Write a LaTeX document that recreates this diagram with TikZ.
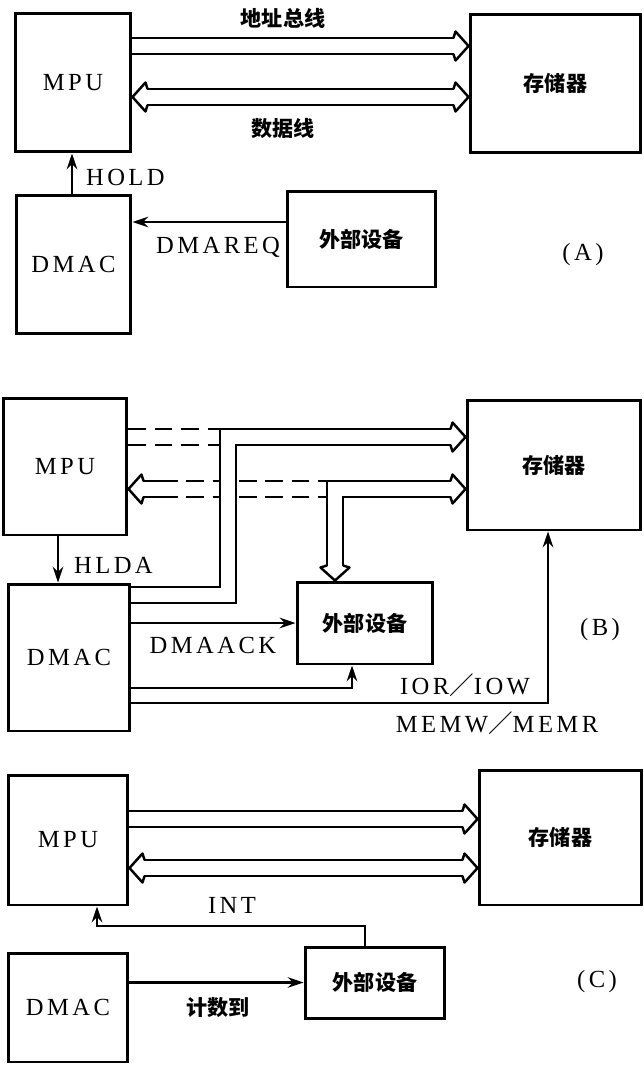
\documentclass[tikz,border=0pt]{standalone}
\usepackage{fontspec}
\setmainfont{Liberation Serif}[LetterSpace=14]
\newfontfamily\cjk{Noto Sans CJK SC}
\usetikzlibrary{arrows.meta, calc}

\begin{document}
\begin{tikzpicture}[
  x=0.02cm, y=-0.02cm,
  line cap=butt, line join=miter,
  box/.style = {draw, line width=1.7pt, inner sep=0pt,
                font=\fontsize{14}{16}\selectfont},
  cbox/.style = {box, font=\cjk\bfseries\fontsize{12}{14}\selectfont},
  bus/.style = {draw, line width=1.3pt, double=white, double distance=8pt},
  busr/.style = {bus, shorten >=0.3cm},
  busl/.style = {bus, shorten <=0.3cm},
  busb/.style = {bus, shorten >=0.3cm, shorten <=0.3cm},
  hd/.pic = {\draw[line width=1.4pt, line cap=round, line join=round]
              (-15,8.2) -- (-13,14.5) -- (0,0) -- (-13,-14.5) -- (-15,-8.2);},
  dsh/.style = {draw, line width=1.3pt, dash pattern=on 10pt off 5pt},
  sig/.style = {draw, line width=1.3pt, -{Stealth[length=9pt, width=6pt]}},
  lbl/.style = {inner sep=1pt, font=\fontsize{14}{16}\selectfont},
  clbl/.style = {inner sep=1pt, font=\cjk\bfseries\fontsize{12}{14}\selectfont}
]
\fill[white] (0,0) rectangle (644,1065);
\useasboundingbox (0,0) rectangle (644,1065);

% (A) 请求
\node[box, minimum width=2.32cm, minimum height=2.78cm] (mpuA) at (73,82.5) {MPU};
\node[cbox, minimum width=3.42cm, minimum height=2.78cm] (memA) at (555.5,83.5) {存储器};
\node[box, minimum width=2.30cm, minimum height=2.78cm] (dmacA) at (73.5,264.5) {DMAC};
\node[cbox, minimum width=2.98cm, minimum height=1.92cm] (extA) at (361.5,239) {外部设备};

\draw[busr] (mpuA.east |- 0,46) -- (memA.west |- 0,46);
\pic at (memA.west |- 0,46) {hd};
\draw[busb] (mpuA.east |- 0,97) -- (memA.west |- 0,97);
\pic at (memA.west |- 0,97) {hd};
\pic[rotate=180] at (mpuA.east |- 0,97) {hd};
\draw[sig] (dmacA.north -| 72,0) -- (mpuA.south -| 72,0);
\draw[sig] (extA.west |- 0,222) -- (dmacA.east |- 0,222);

\node[clbl] (addrA) at (283,18) {地址总线};
\node[clbl] (dataA) at (283,128) {数据线};
\node[lbl, anchor=west] (holdA) at (84,177) {HOLD};
\node[lbl] (reqA) at (218,247) {DMAREQ};
\node[lbl] (tagA) at (583,255) {(A)};

% (B) DMA 传送
\node[box, minimum width=2.48cm, minimum height=2.74cm] (mpuB) at (65,466.5) {MPU};
\node[cbox, minimum width=3.48cm, minimum height=2.60cm] (memB) at (554,465) {存储器};
\node[box, minimum width=2.44cm, minimum height=2.94cm] (dmacB) at (69,657.5) {DMAC};
\node[cbox, minimum width=2.72cm, minimum height=1.64cm] (extB) at (365,623) {外部设备};

% MPU 脱离总线
\draw[dsh] (mpuB.east |- 0,428.8) -- (219.8,428.8);
\draw[dsh] (mpuB.east |- 0,445.2) -- (219.8,445.2);
\draw[dsh] (160,480.8) -- (326.8,480.8);
\draw[dsh] (160,497.2) -- (326.8,497.2);
\coordinate (stubB) at (160,489);
\draw[busl] (mpuB.east |- stubB) -- (stubB);
\pic[rotate=180] at (mpuB.east |- stubB) {hd};

\draw[busr] (dmacB.east |- 0,595) -| (228,437) -- (memB.west |- 0,437);
\pic at (memB.west |- 0,437) {hd};
\draw[busb] (extB.north -| 335,0) |- (memB.west |- 0,489);
\pic at (memB.west |- 0,489) {hd};
\pic[rotate=-90] at (extB.north -| 335,0) {hd};

\draw[sig] (mpuB.south -| 58,0) -- (dmacB.north -| 58,0);
\draw[sig] (dmacB.east |- extB.west) -- (extB.west);
\draw[sig] (dmacB.east |- 0,688) -| (extB.south -| 352,0);
\draw[sig] (dmacB.east |- 0,703) -| (memB.south -| 548,0);

\node[lbl, anchor=west] (hldaB) at (72,565) {HLDA};
\node[lbl] (ackB) at (213,645) {DMAACK};
\node[lbl] (iorB) at (465,685) {IOR{\cjk ／}IOW};
\node[lbl] (memrB) at (497,723) {MEMW{\cjk ／}MEMR};
\node[lbl] (tagB) at (600,630) {(B)};

% (C) 结束
\node[box, minimum width=2.40cm, minimum height=2.60cm] (mpuC) at (68,840) {MPU};
\node[cbox, minimum width=3.26cm, minimum height=2.70cm] (memC) at (560.5,837.5) {存储器};
\node[box, minimum width=2.40cm, minimum height=2.18cm] (dmacC) at (68,1007.5) {DMAC};
\node[cbox, minimum width=2.80cm, minimum height=1.42cm] (extC) at (375,982.5) {外部设备};

\draw[busr] (mpuC.east |- 0,819) -- (memC.west |- 0,819);
\pic at (memC.west |- 0,819) {hd};
\draw[busb] (mpuC.east |- 0,868) -- (memC.west |- 0,868);
\pic at (memC.west |- 0,868) {hd};
\pic[rotate=180] at (mpuC.east |- 0,868) {hd};
\draw[sig] (extC.north -| 365,0) |- (97,926) -- (mpuC.south -| 97,0);
\draw[sig] (dmacC.east |- extC.west) -- (extC.west);

\node[lbl] (intC) at (232,905) {INT};
\node[clbl] (cntC) at (218,1008) {计数到};
\node[lbl] (tagC) at (597,982) {(C)};

\end{tikzpicture}
\end{document}
